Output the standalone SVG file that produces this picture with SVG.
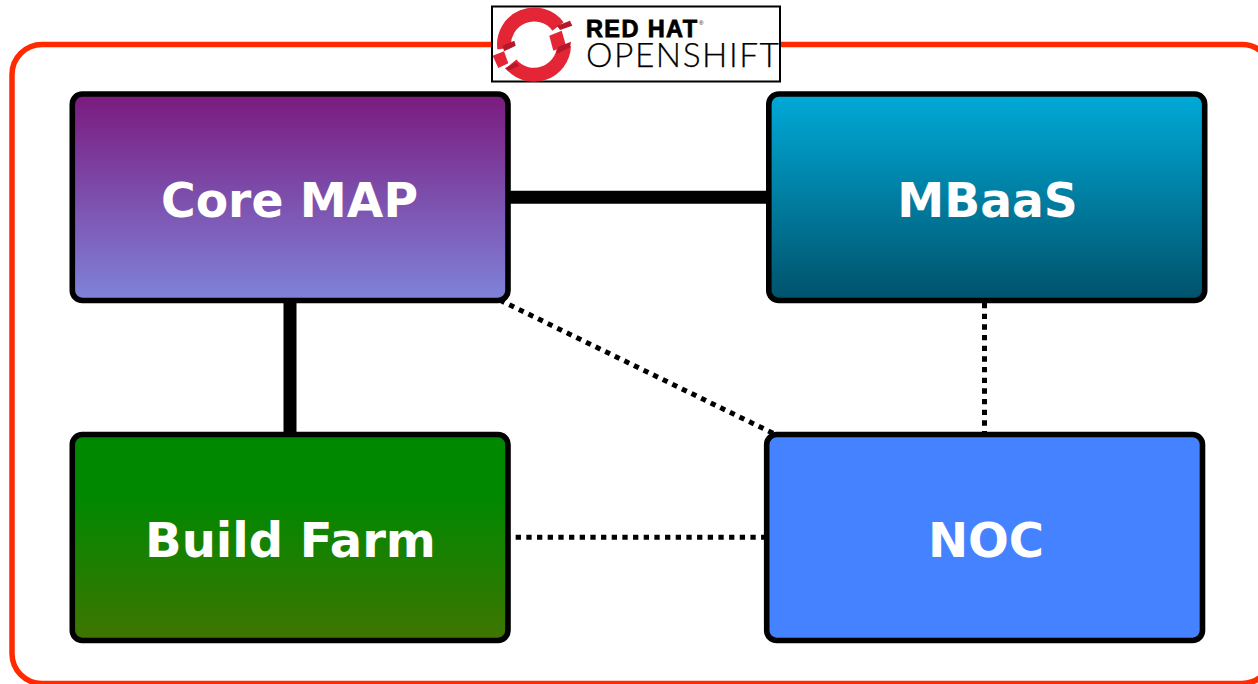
<svg xmlns="http://www.w3.org/2000/svg" width="1258" height="684" viewBox="0 0 1258 684">
<style>
.box{stroke:#000;stroke-width:5.600}
.lbl{font-family:"DejaVu Sans",Verdana,sans-serif;font-weight:700;font-size:48px;fill:#fff;text-anchor:middle}
.solid{stroke:#000;stroke-width:13;fill:none}
.dot{stroke:#000;stroke-width:5;stroke-dasharray:5.300 5.370;fill:none}
.arc{fill:none;stroke:#e42535;stroke-width:14}
.red{fill:#e42535}
.shade{fill:#b3192a}
</style>
<defs>
<linearGradient id="gCore" x1="0" y1="0" x2="0" y2="1"><stop offset="0" stop-color="#7a1a7e"/><stop offset="1" stop-color="#7f83da"/></linearGradient>
<linearGradient id="gMbaas" x1="0" y1="0" x2="0" y2="1"><stop offset="0" stop-color="#00aad8"/><stop offset="1" stop-color="#00526b"/></linearGradient>
<linearGradient id="gBuild" x1="0" y1="0" x2="0" y2="1"><stop offset="0" stop-color="#008800"/><stop offset="0.3" stop-color="#008800"/><stop offset="1" stop-color="#3f7500"/></linearGradient>
</defs>
<rect id="frame" x="12" y="44.500" width="1260" height="639" rx="30" fill="#fff" stroke="#ff2a00" stroke-width="5.500"/>
<g id="connectors">
<path class="solid" d="M508 197.300H768"/>
<path class="solid" d="M290 300V434"/>
<path class="dot" d="M499.700 300.100L775 434.200"/>
<path class="dot" d="M984.500 303V434"/>
<path class="dot" d="M505 537.300H766"/>
</g>
<g id="core-map"><rect class="box" x="72.300" y="94" width="435.700" height="206.500" rx="10" fill="url(#gCore)"/><text class="lbl" x="289.500" y="217" textLength="257" lengthAdjust="spacingAndGlyphs">Core MAP</text></g>
<g id="mbaas"><rect class="box" x="768.800" y="94" width="435.900" height="206.500" rx="10" fill="url(#gMbaas)"/><text class="lbl" x="987.500" y="217" textLength="180.500" lengthAdjust="spacingAndGlyphs">MBaaS</text></g>
<g id="build-farm"><rect class="box" x="72.300" y="434.500" width="435.700" height="206" rx="10" fill="url(#gBuild)"/><text class="lbl" x="290.500" y="557">Build Farm</text></g>
<g id="noc"><rect class="box" x="766.700" y="434.500" width="435.800" height="206" rx="10" fill="#4482ff"/><text class="lbl" x="986" y="557">NOC</text></g>
<g id="logo">
<rect x="492" y="6.500" width="288" height="75" fill="#fff" stroke="#000" stroke-width="2"/>
<path class="arc" d="M504.300 48.500 A30 30 0 0 1 558 26.500"/>
<path class="arc" d="M511 64 A30 30 0 0 0 564 46"/>
<polygon class="red" points="492.700,55.700 504,51.300 508.300,63.300 498.300,68"/>
<polygon class="red" points="549.300,35.700 561.700,30.700 566,45.700 553.300,50.700"/>
<polygon class="shade" points="557,25.700 570,20.700 572.300,25.700 560,30"/>
<polygon class="shade" points="502.700,45.700 514.300,40.700 515.700,45.700 504,51.300"/>
<polygon class="shade" points="505,68.300 516,62.300 519.300,65.700 508.300,70.700"/>
<polygon class="shade" points="558,47 571,41.700 570,47.300 556.700,54"/>
<text x="586" y="37" font-family="'Liberation Sans',Arial,sans-serif" font-weight="700" font-size="23.500" textLength="111" lengthAdjust="spacing" fill="#000" stroke="#000" stroke-width="0.800">RED HAT</text>
<text x="699" y="25" font-family="'Liberation Sans',Arial,sans-serif" font-size="6" fill="#000">®</text>
<text x="586" y="67" font-family="Lato,'Noto Sans',sans-serif" font-weight="300" font-size="33.500" textLength="193" lengthAdjust="spacing" fill="#000" stroke="#000" stroke-width="0.250">OPENSHIFT</text>
</g>
</svg>
